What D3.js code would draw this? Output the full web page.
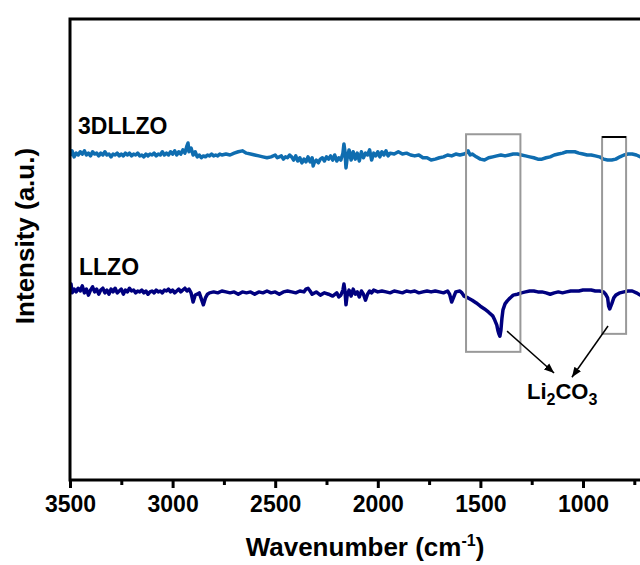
<!DOCTYPE html>
<html><head><meta charset="utf-8">
<script src="https://cdn.jsdelivr.net/npm/d3@7"></script>
<style>
html,body{margin:0;padding:0;background:#fff;}
svg text{font-family:"Liberation Sans",Arial,sans-serif;font-weight:bold;fill:#000;}
</style></head>
<body><svg id="chart" width="640" height="565"></svg>
<script>
// ---- data ----
const wn3D = [3500,3490,3480,3470,3460,3450,3440,3430,3420,3410,3400,3390,3380,3370,3360,3350,3340,3330,3320,3310,3300,3290,3280,3270,3260,3250,3240,3230,3220,3210,3200,3190,3180,3170,3160,3150,3140,3130,3120,3110,3100,3090,3080,3070,3060,3050,3040,3030,3020,3010,3000,2990,2980,2970,2960,2950,2940,2930,2925,2920,2910,2900,2890,2880,2870,2860,2850,2840,2830,2820,2810,2800,2790,2780,2770,2760,2740,2720,2700,2680,2660,2640,2620,2600,2580,2560,2540,2520,2500,2490,2480,2470,2460,2450,2440,2430,2420,2410,2400,2390,2380,2370,2360,2350,2340,2330,2320,2315,2310,2300,2290,2280,2270,2260,2250,2240,2230,2220,2210,2200,2190,2180,2170,2165,2160,2155,2150,2140,2130,2120,2110,2100,2090,2080,2070,2060,2050,2040,2030,2020,2010,2000,1990,1980,1970,1960,1950,1940,1920,1900,1880,1860,1840,1820,1800,1780,1760,1740,1720,1700,1680,1660,1640,1620,1600,1580,1570,1560,1550,1540,1520,1500,1480,1460,1440,1420,1400,1380,1360,1340,1320,1300,1280,1260,1240,1220,1200,1180,1160,1140,1120,1100,1080,1060,1040,1020,1000,980,960,940,920,900,880,860,840,820,800,780,760,740,720,700,680,660];
const int3D = [70.3,71.4,70.1,70.9,70.5,71.2,70.7,71.4,70.5,70.9,70.3,71.2,70.7,70.9,70.3,70.9,70.5,71.2,70.5,70.7,70.1,70.7,70.5,70.9,70.3,70.7,70.3,70.9,70.5,70.9,70.3,70.7,70.5,70.9,70.3,70.5,70.1,70.7,70.3,70.7,70.5,70.9,70.3,70.7,70.5,71.2,70.5,70.9,70.5,71.2,70.7,71.4,70.5,71.2,70.7,71.6,70.9,72.5,73.1,71.2,72.0,70.5,71.2,70.1,70.5,69.9,70.3,70.1,70.5,70.3,70.7,70.3,70.5,70.3,70.7,70.5,70.7,70.5,70.9,71.2,71.4,70.9,70.7,70.5,70.3,70.1,69.9,70.1,70.5,69.9,70.1,70.3,69.6,70.1,69.9,70.5,70.1,69.4,70.3,69.2,69.9,68.8,69.6,69.0,70.1,69.0,69.9,68.1,68.8,69.4,68.8,69.6,69.9,69.2,70.1,69.6,70.3,69.4,70.5,69.2,69.9,69.4,70.9,72.9,71.2,67.7,69.6,71.6,69.4,71.2,69.6,70.9,69.2,71.2,69.9,70.9,70.5,71.6,69.4,70.9,70.3,71.2,70.1,71.2,70.5,71.4,70.3,70.9,70.7,71.2,70.7,70.9,70.5,70.3,70.5,69.9,69.9,69.4,69.6,69.9,70.1,70.5,70.3,70.7,70.5,70.7,70.9,71.4,70.5,70.7,70.1,69.6,69.4,69.9,70.1,70.3,70.5,70.3,70.5,70.7,70.7,70.5,70.3,70.1,69.9,69.6,69.6,69.9,70.1,70.5,70.7,70.9,71.2,71.2,71.2,70.9,70.7,70.5,70.5,70.3,70.1,69.6,69.4,69.4,69.6,70.1,70.5,70.7,70.7,70.5,70.1,69.9,70.1,70.3];

const wnLL = [3500,3495,3490,3480,3470,3460,3450,3440,3430,3420,3410,3400,3390,3380,3370,3360,3350,3340,3330,3320,3310,3300,3290,3280,3270,3260,3250,3240,3230,3220,3210,3200,3190,3180,3170,3160,3150,3140,3130,3120,3110,3100,3090,3080,3070,3060,3050,3040,3030,3020,3010,3000,2990,2980,2970,2960,2950,2940,2930,2920,2910,2900,2890,2880,2870,2860,2850,2840,2830,2820,2800,2780,2760,2740,2720,2700,2680,2660,2640,2620,2600,2580,2560,2540,2520,2500,2480,2460,2440,2420,2400,2380,2360,2350,2340,2330,2320,2300,2280,2260,2240,2220,2200,2190,2180,2170,2165,2160,2155,2150,2140,2130,2120,2110,2100,2090,2080,2070,2060,2050,2040,2030,2020,2000,1980,1960,1940,1920,1900,1880,1860,1840,1820,1800,1780,1760,1740,1720,1700,1680,1660,1650,1640,1630,1620,1600,1590,1580,1560,1540,1520,1500,1480,1460,1440,1430,1420,1415,1410,1405,1400,1395,1390,1380,1370,1360,1350,1340,1320,1300,1280,1260,1240,1220,1200,1180,1160,1140,1120,1100,1080,1060,1040,1020,1000,980,960,940,920,900,890,880,875,870,860,850,840,820,800,780,760,740,720,700,680,660];
const intLL = [41.2,42.5,40.6,41.4,40.8,41.6,41.0,42.1,40.6,41.4,40.1,41.2,41.9,40.8,41.4,40.3,41.2,41.6,40.6,41.2,40.3,41.4,40.8,41.6,40.6,41.0,41.4,40.3,41.2,40.8,41.6,41.0,41.2,40.6,41.0,40.8,41.2,40.6,41.0,40.3,40.8,41.0,40.6,41.2,40.8,41.0,40.6,41.2,41.0,41.4,40.8,41.2,40.6,41.0,41.4,40.8,41.2,41.6,41.0,41.4,40.6,38.6,40.1,40.3,40.6,39.3,38.0,39.5,40.3,40.6,40.8,40.6,41.0,40.8,40.6,40.8,40.3,40.8,40.6,40.8,40.3,40.8,40.6,41.0,40.6,40.8,40.3,40.8,41.0,40.8,40.6,41.0,40.8,41.4,41.6,41.0,40.3,40.8,40.1,40.6,40.3,39.9,40.6,39.7,40.1,41.2,42.5,41.0,38.0,39.9,41.2,39.9,41.4,40.3,40.8,39.7,41.0,40.3,39.0,40.3,41.0,40.6,41.2,40.8,41.0,40.8,40.6,41.0,40.8,40.6,41.0,40.8,41.0,40.6,40.8,41.0,40.8,41.0,40.8,40.6,41.0,40.3,38.6,39.7,40.8,41.0,40.6,39.9,39.5,39.0,38.4,37.7,37.1,36.4,35.6,34.7,33.6,32.5,31.7,31.2,32.5,35.1,36.9,38.2,38.8,39.3,39.7,40.1,40.3,40.6,40.8,41.0,41.0,40.8,40.8,40.6,40.3,40.6,40.8,40.6,40.8,41.0,41.0,41.0,41.2,41.2,41.2,41.0,41.0,40.8,40.3,39.5,37.7,37.1,38.2,39.5,40.1,40.6,40.8,41.0,41.0,40.6,40.1,39.7,39.5,39.9,40.3];

const series = [
  {name:"3DLLZO", wn: wn3D, val: int3D, color:"#0f6db0"},
  {name:"LLZO",   wn: wnLL, val: intLL, color:"#00007f"}
];
const majorTicks = [3500,3000,2500,2000,1500,1000];
const minorTicks = [3250,2750,2250,1750,1250,750];
// annotation boxes and arrows in data units (wavenumber, intensity)
const boxes = [{w0:1570,w1:1305,i0:75.0,i1:27.8},{w0:907,w1:790,i0:74.4,i1:31.7}];
const arrows = [{w0:1370,i0:32.3,w1:1141,i1:23.2},{w0:878,i0:33.4,w1:1054,i1:22.3}];
const anno = {w:1273, i:17.6};

// ---- drawing ----
const svg = d3.select("#chart");
const L = 70, T = 19, B = 480;
const x = d3.scaleLinear().domain([3500, 400]).range([L, L + 3100*0.2052]);
const y = d3.scaleLinear().domain([0, 100]).range([B, T]);

svg.append("defs").append("clipPath").attr("id","clip")
  .append("rect").attr("x",L).attr("y",T).attr("width",x(400)-L).attr("height",B-T);

const g = svg.append("g").attr("clip-path","url(#clip)");
const line = d3.line().x(d=>x(d[0])).y(d=>y(d[1]));
series.forEach(s=>{
  g.append("path").datum(s.wn.map((w,i)=>[w,s.val[i]]))
   .attr("d",line).attr("fill","none").attr("stroke",s.color)
   .attr("stroke-width",3.5).attr("stroke-linejoin","round");
});

// boxes
boxes.forEach(b=>{
  svg.append("rect").attr("x",x(b.w0)).attr("y",y(b.i0))
    .attr("width",x(b.w1)-x(b.w0)).attr("height",y(b.i1)-y(b.i0))
    .attr("fill","none").attr("stroke","#999").attr("stroke-width",2);
});
svg.append("line").attr("x1",x(boxes[1].w0)).attr("x2",x(boxes[1].w1))
  .attr("y1",y(boxes[1].i0)).attr("y2",y(boxes[1].i0)).attr("stroke","#000").attr("stroke-width",2);

// arrows
svg.append("defs").append("marker").attr("id","ah").attr("viewBox","0 0 10 10")
  .attr("refX",10).attr("refY",5).attr("markerWidth",10).attr("markerHeight",10)
  .attr("markerUnits","userSpaceOnUse").attr("orient","auto")
  .append("path").attr("d","M0,1 L10,5 L0,9 Z").attr("fill","#000");
arrows.forEach(a=>{
  svg.append("line").attr("x1",x(a.w0)).attr("y1",y(a.i0)).attr("x2",x(a.w1)).attr("y2",y(a.i1))
    .attr("stroke","#000").attr("stroke-width",1.5).attr("marker-end","url(#ah)");
});
const t = svg.append("text").attr("x",x(anno.w)).attr("y",y(anno.i)).style("font-size","22px");
t.append("tspan").text("Li");
t.append("tspan").text("2").attr("dy",6).style("font-size","16px");
t.append("tspan").text("CO").attr("dy",-6);
t.append("tspan").text("3").attr("dy",6).style("font-size","16px");

// series labels
svg.append("text").attr("x",78).attr("y",y(75.1)).style("font-size","23px").text("3DLLZO");
svg.append("text").attr("x",79).attr("y",y(44.5)).style("font-size","23px").text("LLZO");

// axes
const ax = svg.append("g").attr("transform",`translate(0,${B})`)
  .call(d3.axisBottom(x).tickValues(majorTicks).tickSize(8).tickPadding(8).tickFormat(d3.format("d")));
ax.select(".domain").remove();
ax.selectAll(".tick line").attr("stroke","#000").attr("stroke-width",3);
ax.selectAll(".tick text").style("font-size","23px").style("font-family",'"Liberation Sans",Arial,sans-serif').style("font-weight","bold");
const axm = svg.append("g").attr("transform",`translate(0,${B})`)
  .call(d3.axisBottom(x).tickValues(minorTicks).tickSize(5).tickFormat(""));
axm.select(".domain").remove();
axm.selectAll(".tick line").attr("stroke","#000").attr("stroke-width",3);

// frame
svg.append("rect").attr("x",L).attr("y",T).attr("width",x(400)-L).attr("height",B-T)
  .attr("fill","none").attr("stroke","#000").attr("stroke-width",3);

// titles
const xt = svg.append("text").attr("x",365).attr("y",556).attr("text-anchor","middle").style("font-size","26px");
xt.append("tspan").text("Wavenumber (cm");
xt.append("tspan").text("-1").attr("dy",-10).style("font-size","16px");
xt.append("tspan").text(")").attr("dy",10);
svg.append("text").attr("transform","translate(34,236) rotate(-90)").attr("text-anchor","middle")
  .style("font-size","26px").text("Intensity (a.u.)");
</script></body></html>
